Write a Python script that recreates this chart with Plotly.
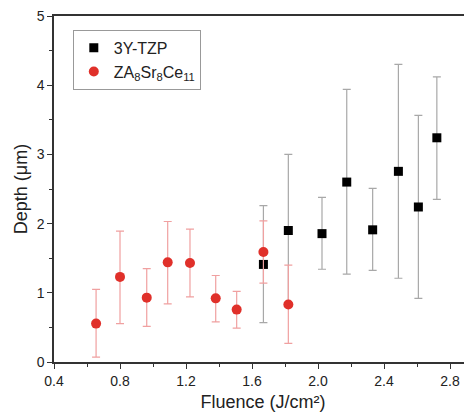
import plotly.graph_objects as go

# 3Y-TZP series
tzp_x = [1.669, 1.82, 2.024, 2.174, 2.331, 2.487, 2.608, 2.72]
tzp_y = [1.41, 1.90, 1.855, 2.60, 1.91, 2.755, 2.24, 3.24]
tzp_top = [2.26, 3.00, 2.38, 3.94, 2.51, 4.30, 3.565, 4.12]
tzp_bot = [0.57, 0.80, 1.34, 1.27, 1.325, 1.21, 0.92, 2.35]

# ZA8Sr8Ce11 series
za_x = [0.655, 0.80, 0.962, 1.089, 1.224, 1.38, 1.507, 1.669, 1.82]
za_y = [0.555, 1.23, 0.93, 1.44, 1.43, 0.92, 0.757, 1.59, 0.83]
za_top = [1.05, 1.89, 1.35, 2.03, 1.92, 1.25, 1.02, 2.04, 1.40]
za_bot = [0.07, 0.555, 0.515, 0.84, 0.94, 0.58, 0.49, 1.14, 0.27]

x_ticks = [0.4, 0.8, 1.2, 1.6, 2.0, 2.4, 2.8]
y_ticks = [0, 1, 2, 3, 4, 5]

fig = go.Figure()
fig.add_trace(go.Scatter(
    x=tzp_x, y=tzp_y, mode="markers", name="3Y-TZP",
    marker=dict(symbol="square", size=9, color="black"),
    error_y=dict(type="data", symmetric=False,
                 array=[t - v for t, v in zip(tzp_top, tzp_y)],
                 arrayminus=[v - b for v, b in zip(tzp_y, tzp_bot)],
                 color="#a8a8a8", thickness=1.2, width=4),
))
fig.add_trace(go.Scatter(
    x=za_x, y=za_y, mode="markers",
    name="ZA<sub>8</sub>Sr<sub>8</sub>Ce<sub>11</sub>",
    marker=dict(symbol="circle", size=10, color="#e0302a"),
    error_y=dict(type="data", symmetric=False,
                 array=[t - v for t, v in zip(za_top, za_y)],
                 arrayminus=[v - b for v, b in zip(za_y, za_bot)],
                 color="#f0a0a0", thickness=1.2, width=4),
))

FONT = "Liberation Sans, Arial, sans-serif"
fig.update_layout(
    width=464, height=409,
    margin=dict(l=46, r=0, t=8, b=55),
    paper_bgcolor="white", plot_bgcolor="white",
    font=dict(family=FONT, size=14, color="#222"),
    showlegend=True,
    legend=dict(x=0.045, y=0.96, xanchor="left", yanchor="top",
                bordercolor="#999", borderwidth=1, bgcolor="white",
                font=dict(family=FONT, size=16, color="#222"),
                tracegroupgap=0),
    xaxis=dict(range=[0.4, 2.933], tickvals=x_ticks,
               ticktext=[f"{v:.1f}" for v in x_ticks],
               showline=True, linecolor="#333", linewidth=1.5, mirror=True,
               ticks="outside", ticklen=5, tickcolor="#333", tickwidth=1.2,
               minor=dict(dtick=0.2, ticks="outside", ticklen=3, tickcolor="#333", tickwidth=1),
               showgrid=False, zeroline=False, automargin=False,
               title=dict(text="Fluence (J/cm²)", font=dict(size=18), standoff=8),
               tickfont=dict(size=14)),
    yaxis=dict(range=[0, 5], tickvals=y_ticks, ticklabeloverflow="allow",
               showline=True, linecolor="#333", linewidth=1.5, mirror=False,
               ticks="outside", ticklen=5, tickcolor="#333", tickwidth=1.2,
               minor=dict(dtick=0.5, ticks="outside", ticklen=3, tickcolor="#333", tickwidth=1),
               showgrid=False, zeroline=False, automargin=False,
               title=dict(text="Depth (μm)", font=dict(size=18), standoff=4),
               tickfont=dict(size=14)),
)
fig.write_html("out.html")
